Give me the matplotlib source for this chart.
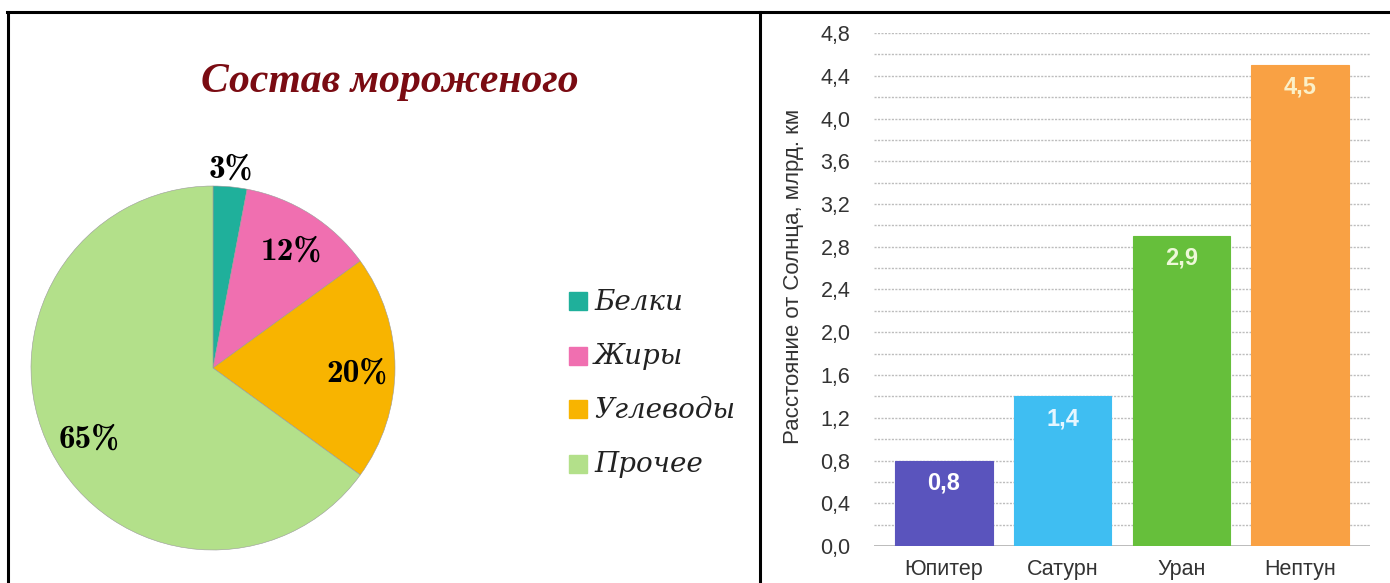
import matplotlib
matplotlib.use("Agg")
import matplotlib.pyplot as plt
from matplotlib.lines import Line2D
from matplotlib.patches import Rectangle

# ---- data ----
pie_title = "Состав мороженого"
pie_labels = ["Белки", "Жиры", "Углеводы", "Прочее"]
pie_values = [3, 12, 20, 65]
pie_colors = ["#1fb09b", "#f06fb0", "#f8b400", "#b3e08a"]

bar_categories = ["Юпитер", "Сатурн", "Уран", "Нептун"]
bar_values = [0.8, 1.4, 2.9, 4.5]
bar_colors = ["#5a54bd", "#3fbef2", "#66bf3b", "#f9a144"]
bar_text_colors = ["#ffffff", "#e6f6ff", "#eef8d8", "#fbf0c8"]
y_ticks = [0.0, 0.4, 0.8, 1.2, 1.6, 2.0, 2.4, 2.8, 3.2, 3.6, 4.0, 4.4, 4.8]
y_label = "Расстояние от Солнца, млрд. км"

W, H = 1390, 583
fig = plt.figure(figsize=(W / 100, H / 100), dpi=100)
fig.patch.set_facecolor("white")

def fx(px):
    return px / W

def fy(py):
    return 1 - py / H

# ---- borders ----
fig.add_artist(Line2D([fx(7), fx(1390)], [fy(12), fy(12)], color="black", lw=2.2))
fig.add_artist(Line2D([fx(8), fx(8)], [fy(12), fy(583)], color="black", lw=2.2))
fig.add_artist(Line2D([fx(760), fx(760)], [fy(12), fy(583)], color="black", lw=2.2))

# ---- pie ----
cx, cy, r = 213, 368, 182
ax1 = fig.add_axes([fx(cx - r), fy(cy + r), fx(2 * r), (2 * r) / H])
wedges, _ = ax1.pie(pie_values, colors=pie_colors, startangle=90, counterclock=False,
                    wedgeprops=dict(edgecolor="#9a9a9a", linewidth=0.4))
ax1.set_aspect("auto")
ax1.set_xlim(-1, 1)
ax1.set_ylim(-1, 1)

# percentage labels (positions in radius units relative to centre)
label_pos = [(0.10, 1.09), (0.43, 0.64), (0.79, -0.03), (-0.68, -0.39)]
for (lx, ly), v in zip(label_pos, pie_values):
    ax1.text(lx, ly, f"{v}%", ha="center", va="center", fontsize=24,
             family="cmb10", color="black")

fig.text(fx(390), fy(82), pie_title, ha="center", va="center", fontsize=30,
         family="Liberation Serif", style="italic", weight="bold", color="#7a0b12")

# legend
leg_y = [302, 357, 410, 465]
for lab, col, yy in zip(pie_labels, pie_colors, leg_y):
    fig.add_artist(Rectangle((fx(569), fy(yy + 8)), fx(18), 18 / H, color=col,
                             transform=fig.transFigure))
    fig.text(fx(594), fy(yy), lab, ha="left", va="center", fontsize=20,
             family="DejaVu Serif", style="italic", color="#222222")

# ---- bars ----
ax2 = fig.add_axes([fx(874), fy(546), fx(1370 - 874), (546 - 33) / H])
x = range(len(bar_categories))
bars = ax2.bar(x, bar_values, width=0.82, color=bar_colors, zorder=3,
               edgecolor=[c for c in bar_colors], linewidth=0.8)
ax2.set_xlim(-0.59, 3.59)
ax2.set_ylim(0, 4.8)
ax2.set_yticks(y_ticks)
ax2.set_yticklabels([f"{t:.1f}".replace(".", ",") for t in y_ticks],
                    fontsize=15.5, family="Liberation Sans", color="#333333")
ax2.set_xticks(list(x))
ax2.set_xticklabels(bar_categories, fontsize=15.5, family="Liberation Sans",
                    color="#333333")
ax2.tick_params(axis="y", length=0, pad=17)
ax2.tick_params(axis="x", length=0, pad=9)
for s in ax2.spines.values():
    s.set_visible(False)
grid_vals = [i * 0.2 for i in range(1, 25)]
for g in grid_vals:
    ax2.axhline(g, color="#bdbdbd", lw=1.0, ls=(0, (1.5, 1.0)), zorder=1)
ax2.axhline(0, color="#b0b0b0", lw=1.2, zorder=1)
ax2.set_ylabel(y_label, fontsize=16, family="Liberation Sans", color="#333333")
ax2.yaxis.label.set_va("center")
ax2.yaxis.set_label_coords((794 - 874) / 496, (546 - 276) / 513)
for xi, v, tc in zip(x, bar_values, bar_text_colors):
    ax2.annotate(f"{v:.1f}".replace(".", ","), (xi, v), xytext=(0, -16),
                 textcoords="offset points", ha="center", va="center",
                 fontsize=17, family="Liberation Sans", weight="bold", color=tc,
                 zorder=4)

fig.savefig("out.png", dpi=100)
